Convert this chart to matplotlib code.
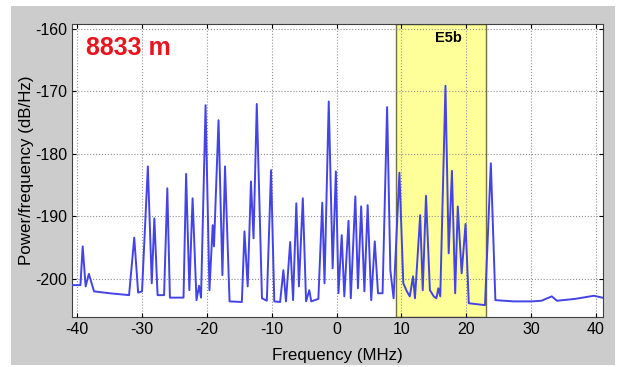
import matplotlib.pyplot as plt
import matplotlib.patches as mpatches
import numpy as np

plt.rcParams['axes.unicode_minus'] = False

# spectrum trace (MHz, dB/Hz)
freq = [-41.0, -39.5, -39.15, -38.7, -38.2, -37.4, -35.0, -32.0, -31.2, -30.6, -30.0,
        -29.1, -28.5, -28.1, -27.6, -26.6, -26.1, -25.7, -23.6, -23.2, -22.7, -22.2,
        -21.6, -21.2, -20.9, -20.2, -19.6, -19.1, -18.9, -18.2, -17.6, -17.2, -16.5,
        -14.6, -14.2, -13.7, -13.2, -12.8, -12.3, -11.5, -10.75, -10.1, -9.6, -8.7,
        -8.2, -7.8, -7.15, -6.7, -6.2, -5.8, -5.2, -4.7, -4.2, -3.9, -2.8, -2.2,
        -1.85, -1.2, -0.6, -0.1, 0.3, 0.8, 1.2, 1.85, 2.2, 2.9, 3.3, 3.8, 4.3, 4.8,
        5.35, 5.9, 6.4, 7.1, 7.8, 8.3, 8.8, 9.7, 10.3, 10.85, 11.3, 11.8, 12.1, 12.9,
        13.3, 13.8, 14.4, 15.0, 15.4, 15.7, 16.0, 16.8, 17.3, 17.8, 18.3, 18.7, 19.3,
        19.9, 20.4, 22.9, 23.8, 24.5, 27.3, 30.1, 31.6, 33.2, 34.0, 36.8, 39.7, 41.0]
power = [-201.0, -201.0, -194.8, -201.2, -199.2, -202.0, -202.3, -202.6, -193.4, -202.2, -202.0,
         -182.0, -200.7, -190.3, -202.6, -202.6, -185.5, -203.0, -203.0, -183.2, -201.8, -187.1,
         -203.4, -201.1, -203.0, -172.2, -201.8, -191.4, -194.8, -174.6, -199.4, -182.0, -203.6,
         -203.7, -192.4, -201.2, -184.4, -193.5, -172.0, -203.1, -203.5, -182.6, -203.6, -203.7,
         -198.6, -203.6, -194.1, -203.4, -187.9, -201.2, -187.1, -203.6, -201.8, -203.6, -203.2, -187.8,
         -200.7, -171.6, -198.3, -182.8, -202.3, -193.0, -202.8, -190.7, -203.1, -186.8, -201.5, -188.4, -202.0, -188.2,
         -203.4, -194.0, -202.3, -202.3, -172.5, -198.6, -203.1, -183.0, -200.7, -202.0, -202.8, -199.6, -203.1, -189.8,
         -201.8, -186.7, -201.8, -202.8, -203.1, -201.5, -202.8, -169.1, -195.9, -182.7, -202.3, -188.4, -199.1,
         -191.2, -203.9, -204.2, -181.5, -203.4, -203.6, -203.6, -203.5, -202.8, -203.5, -203.2, -202.7, -203.0]

band = (9.1, 23.1)
band_label = "E5b"
depth_label = "8833 m"

fig = plt.figure(figsize=(6.21, 3.67), dpi=100, facecolor='white')
# gray panel behind the axes, with a thin white margin like the original
fig.patches.append(mpatches.Rectangle((11/621, 2/367), 604/621, 359/367,
                                      transform=fig.transFigure, facecolor='#cccccc',
                                      edgecolor='none', zorder=-10))
ax = fig.add_axes([72/621, 1 - 317/367, 531/621, 293/367])
ax.set_zorder(1)
ax.set_facecolor('white')

ax.axvspan(band[0], band[1], facecolor='#ffff99', edgecolor='#707040', linewidth=1.0, zorder=1)
ax.plot(freq, power, color='#4444e6', linewidth=1.4, zorder=3)

ax.text(-38.7, -163, depth_label, color='#e8141e', fontsize=18, fontweight='bold',
        family='Liberation Sans', va='center', ha='left', zorder=4)
ax.text(17.3, -161.4, band_label, color='black', fontsize=10.5, fontweight='bold',
        family='Liberation Sans', va='center', ha='center', zorder=4)

ax.set_xlim(-40.8, 41.1)
ax.set_ylim(-206.1, -159.2)
ax.set_xticks(np.arange(-40, 41, 10))
ax.set_yticks(np.arange(-200, -159, 10))
ax.grid(True, color='#909090', linestyle=':', linewidth=0.8, zorder=2)
ax.set_axisbelow(False)
ax.tick_params(direction='in', length=3, top=True, right=True, labelsize=11.5)
for lab in ax.get_xticklabels() + ax.get_yticklabels():
    lab.set_family('Liberation Sans')
for s in ax.spines.values():
    s.set_color('#404040')
    s.set_linewidth(0.8)

ax.set_xlabel("Frequency (MHz)", fontsize=12.2, family='Liberation Sans', labelpad=8)
ax.set_ylabel("Power/frequency (dB/Hz)", fontsize=12.2, family='Liberation Sans', labelpad=1)

fig.savefig("out.png", dpi=100, facecolor=fig.get_facecolor())
